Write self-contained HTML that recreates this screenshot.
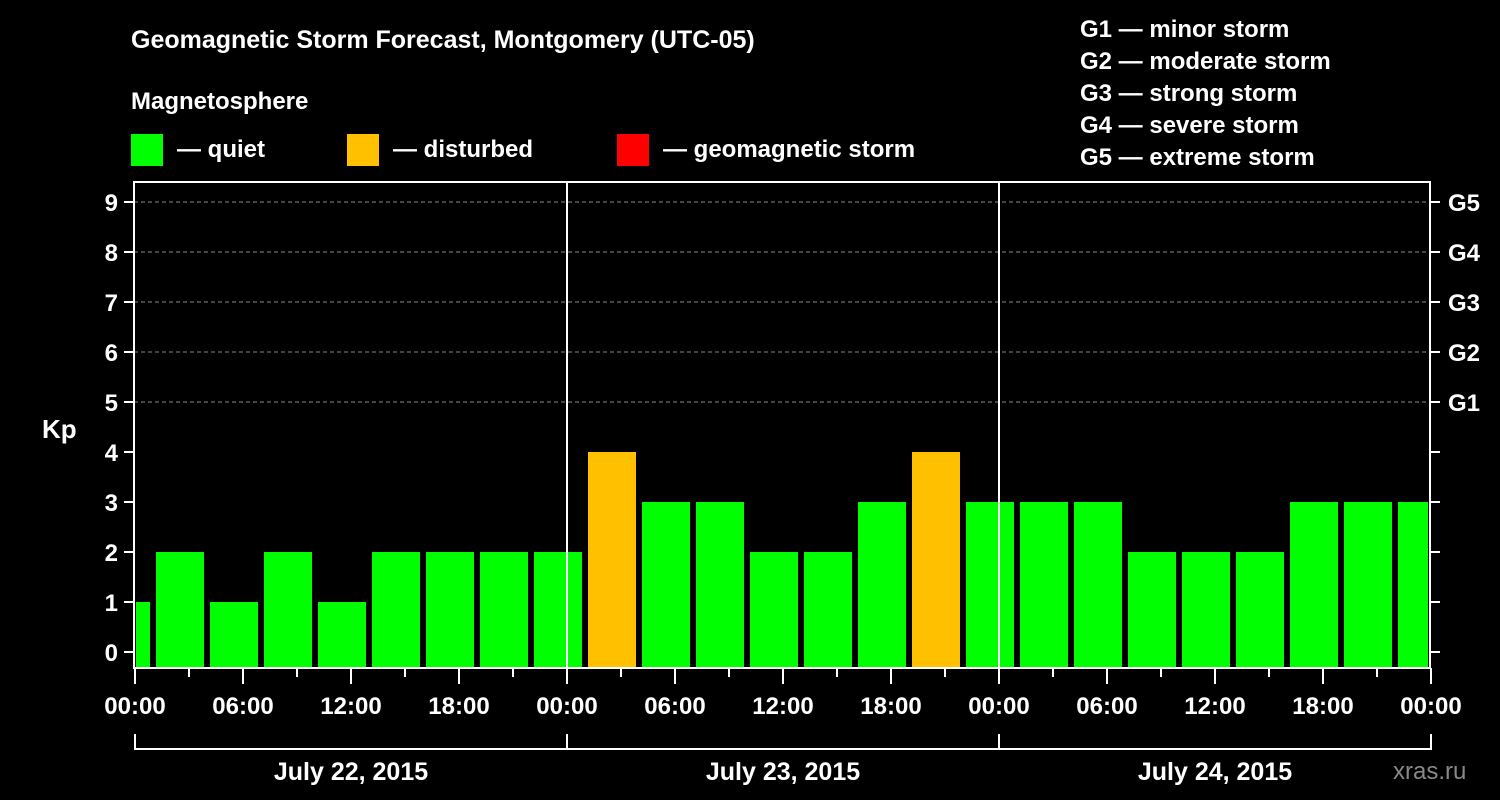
<!DOCTYPE html>
<html><head><meta charset="utf-8"><style>
html,body{margin:0;padding:0;background:#000;}
svg{display:block;font-family:"Liberation Sans",Arial,sans-serif;font-weight:bold;}
</style></head><body>
<svg id="c" width="1500" height="800" viewBox="0 0 1500 800">
<text x="131" y="48" fill="#fff" font-size="25">Geomagnetic Storm Forecast, Montgomery (UTC-05)</text>
<text x="131" y="109" fill="#fff" font-size="24">Magnetosphere</text>
<g><rect x="131" y="134" width="32" height="32" fill="#00ff00"/><text x="177" y="157" fill="#fff" font-size="24">— quiet</text></g>
<g><rect x="347" y="134" width="32" height="32" fill="#ffc000"/><text x="393" y="157" fill="#fff" font-size="24">— disturbed</text></g>
<g><rect x="617" y="134" width="32" height="32" fill="#ff0000"/><text x="663" y="157" fill="#fff" font-size="24">— geomagnetic storm</text></g>
<g fill="#fff" font-size="24">
<text x="1080" y="37">G1 — minor storm</text>
<text x="1080" y="69">G2 — moderate storm</text>
<text x="1080" y="101">G3 — strong storm</text>
<text x="1080" y="133">G4 — severe storm</text>
<text x="1080" y="165">G5 — extreme storm</text>
</g>
<text x="42" y="438" fill="#fff" font-size="26">Kp</text>
<text x="1393" y="779" fill="#888" font-size="24" font-weight="normal">xras.ru</text>
<g id="plot"></g>
</svg>
<script>
const kpValues=[1,2,1,2,1,2,2,2,2,4,3,3,2,2,3,4,3,3,3,2,2,2,3,3,3];
const yTicks=[0,1,2,3,4,5,6,7,8,9];
const gLabels=["G1","G2","G3","G4","G5"];
const hourLabels=["00:00","06:00","12:00","18:00"];
const dayLabels=["July 22, 2015","July 23, 2015","July 24, 2015"];
const X0=135,PX_H=18,L=134,R=1430,T=182,B=668;
const xs=h=>X0+h*PX_H;
const ys=v=>652-v*50;
const NS="http://www.w3.org/2000/svg";
const g=document.getElementById('plot');
function mk(tag,at,parent){const e=document.createElementNS(NS,tag);for(const k in at)e.setAttribute(k,at[k]);(parent||g).appendChild(e);return e;}
// grid
[5,6,7,8,9].forEach(v=>{const e=mk('line',{x1:L,x2:R,y1:ys(v),y2:ys(v),stroke:'#888','stroke-dasharray':'4,3','stroke-width':1});

});
// bars
kpValues.forEach((v,i)=>{const s=-2+3*i,e2=s+3;
let x1=Math.max(xs(s)+3,L+2),x2=Math.min(xs(e2)-3,R-2);
const r=mk('rect',{x:x1,y:ys(v),width:x2-x1,height:B-ys(v),fill:v>=5?'#ff0000':(v>=4?'#ffc000':'#00ff00')});

});
// day separators
[1,2].forEach(d=>{const e=mk('line',{x1:xs(24*d),x2:xs(24*d),y1:T,y2:B,stroke:'#fff','stroke-width':2});

});
// frame
const f=mk('rect',{x:L,y:T,width:R-L,height:B-T,fill:'none',stroke:'#fff','stroke-width':2});


// y ticks
yTicks.forEach(v=>{mk('line',{x1:L-10,x2:L,y1:ys(v),y2:ys(v),stroke:'#fff','stroke-width':2});
mk('line',{x1:R,x2:R+10,y1:ys(v),y2:ys(v),stroke:'#fff','stroke-width':2});
const t=mk('text',{x:L-16,y:ys(v)+9,fill:'#fff','font-size':24,'text-anchor':'end'});t.textContent=v;

});
gLabels.forEach((s,i)=>{const t=mk('text',{x:R+18,y:ys(5+i)+9,fill:'#fff','font-size':24});t.textContent=s;

});
// x ticks
for(let h=0;h<=72;h+=3){const maj=h%6===0;mk('line',{x1:xs(h),x2:xs(h),y1:B,y2:B+(maj?16:9),stroke:'#fff','stroke-width':2});
if(maj){const t=mk('text',{x:xs(h),y:714,fill:'#fff','font-size':24,'text-anchor':'middle'});t.textContent=hourLabels[(h/6)%4];

}}
// day bracket
mk('line',{x1:xs(0),x2:xs(72),y1:749,y2:749,stroke:'#fff','stroke-width':2});
for(let d=0;d<=3;d++)mk('line',{x1:xs(24*d),x2:xs(24*d),y1:734,y2:750,stroke:'#fff','stroke-width':2});
dayLabels.forEach((s,i)=>{const t=mk('text',{x:xs(24*i+12),y:780,fill:'#fff','font-size':25,'text-anchor':'middle'});t.textContent=s;

});
</script>
</body></html>
